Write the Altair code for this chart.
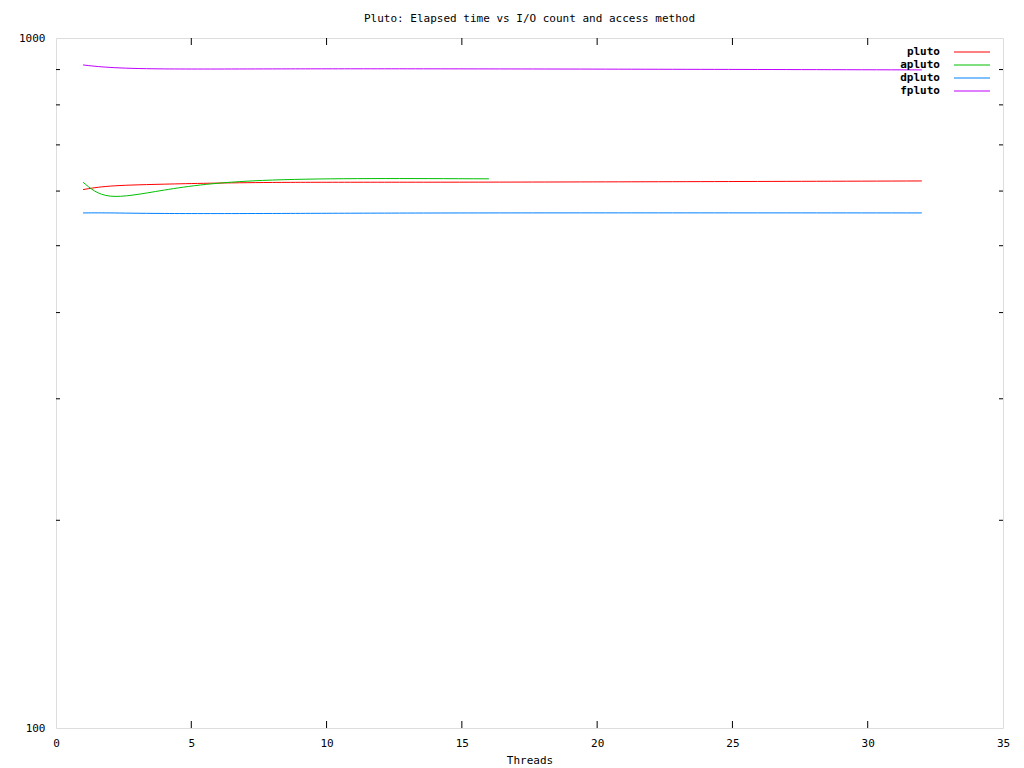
import altair as alt
import pandas as pd

# ---- data ----
threads = [1, 2, 4, 8, 16, 32]
threads_apluto = [1, 2, 4, 8, 16]
pluto = [603, 610, 614, 617.5, 618.2, 620.6]
apluto = [618, 590, 602, 622.5, 625]
dpluto = [557.8, 557.8, 556.8, 556.8, 557.8, 557.8]
fpluto = [914, 906.5, 902, 902, 902, 899]

series_names = ["pluto", "apluto", "dpluto", "fpluto"]
series_colors = ["#ff0000", "#00c000", "#0080ff", "#c000ff"]

x_label_values = [0, 5, 10, 15, 20, 25, 30, 35]
x_inner_ticks = [5, 10, 15, 20, 25, 30]
y_label_values = [100, 1000]
y_minor_ticks = [200, 300, 400, 500, 600, 700, 800, 900]

TITLE = "Pluto: Elapsed time vs I/O count and access method"
X_TITLE = "Threads"

W, H = 947, 690
FONT = "DejaVu Sans Mono"

# ---- tables ----
rows = []
for name, xs, ys in [("pluto", threads, pluto), ("apluto", threads_apluto, apluto),
                     ("dpluto", threads, dpluto), ("fpluto", threads, fpluto)]:
    for x, y in zip(xs, ys):
        rows.append({"threads": x, "value": y, "name": name})
df = pd.DataFrame(rows)

df_xt = pd.DataFrame({"threads": x_inner_ticks})
df_yt = pd.DataFrame({"value": y_minor_ticks})
df_leg = pd.DataFrame({"name": series_names})

x_scale = alt.Scale(domain=[0, 35], nice=False, zero=False)
y_scale = alt.Scale(type="log", domain=[100, 1000], nice=False)
color_scale = alt.Scale(domain=series_names, range=series_colors)

X = alt.X("threads:Q", scale=x_scale,
          axis=alt.Axis(values=x_label_values, ticks=False, tickSize=0, domain=False,
                        grid=False, labelFont=FONT, labelFontSize=11, labelPadding=9,
                        labelColor="black", title=X_TITLE, titleFont=FONT,
                        titleFontSize=11, titleFontWeight="normal", titlePadding=6,
                        titleColor="black", labelFlush=False))
Y = alt.Y("value:Q", scale=y_scale,
          axis=alt.Axis(values=y_label_values, format="d", ticks=False, tickSize=0,
                        domain=False, grid=False, labelFont=FONT, labelFontSize=11,
                        labelPadding=11, labelColor="black", title=None,
                        labelFlush=False))

lines = alt.Chart(df).mark_line(strokeWidth=1, interpolate="natural").encode(
    x=X, y=Y,
    color=alt.Color("name:N", scale=color_scale, legend=None),
    detail="name:N",
)

tick_left = alt.Chart(df_yt).mark_rule(color="black", strokeWidth=1).encode(
    y=Y, x=alt.value(0), x2=alt.value(4))
tick_right = alt.Chart(df_yt).mark_rule(color="black", strokeWidth=1).encode(
    y=Y, x=alt.value(W - 4), x2=alt.value(W))
tick_bottom = alt.Chart(df_xt).mark_rule(color="black", strokeWidth=1).encode(
    x=X, y=alt.value(H - 7), y2=alt.value(H))
tick_top = alt.Chart(df_xt).mark_rule(color="black", strokeWidth=1).encode(
    x=X, y=alt.value(0), y2=alt.value(7))

main = alt.layer(lines, tick_left, tick_right, tick_bottom, tick_top)

leg_y = alt.Y("name:N", sort=series_names,
              scale=alt.Scale(type="point", range=[14, 53], padding=0), axis=None)
leg_text = alt.Chart(df_leg).mark_text(
    align="right", baseline="middle", font=FONT, fontSize=11, fontWeight="bold",
    color="black").encode(x=alt.value(884), y=leg_y, text="name:N")
leg_line = alt.Chart(df_leg).mark_rule(strokeWidth=1).encode(
    x=alt.value(898), x2=alt.value(934), y=leg_y,
    color=alt.Color("name:N", scale=color_scale, legend=None))
legend = alt.layer(leg_text, leg_line)

chart = alt.layer(main, legend).resolve_scale(y="independent").properties(
    width=W, height=H,
    title=alt.TitleParams(TITLE, font=FONT, fontSize=11, fontWeight="normal",
                          color="black", anchor="middle", offset=8),
    autosize=alt.AutoSizeParams(type="none"),
    padding={"left": 48, "top": 30, "right": 13, "bottom": 40},
).configure_view(stroke="black", strokeWidth=1).configure(background="white")

chart.save("out.html", embed_options={"renderer": "svg", "actions": False})
